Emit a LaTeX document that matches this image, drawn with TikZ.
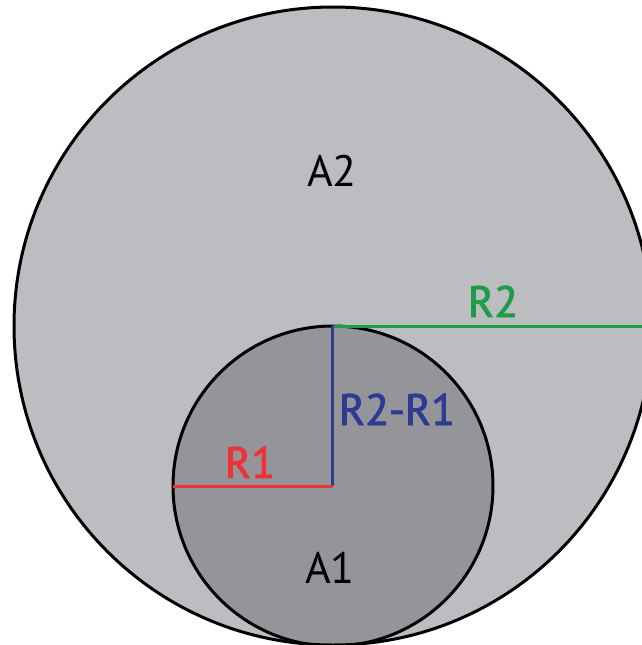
\documentclass[tikz,border=0pt]{standalone}
\usepackage{fontspec}
\setmainfont{PT Sans}
\newfontfamily\radfont[FakeBold=2]{PT Sans}
\usepackage{tikz}
\definecolor{outergray}{HTML}{BCBDC0}
\definecolor{innergray}{HTML}{939598}
\definecolor{radred}{HTML}{EE3237}
\definecolor{radblue}{HTML}{2E3A94}
\definecolor{radgreen}{HTML}{1E9C4A}

\begin{document}
\begin{tikzpicture}[x=0.5pt, y=-0.5pt,
      disc/.style={draw=black, line width=1.5pt},
      radius line/.style={line width=1.5pt},
      area/.style={font=\fontsize{22}{26}\selectfont, anchor=base, inner sep=0pt},
      rlabel/.style={font=\radfont\fontsize{22}{26}\selectfont, anchor=base, inner sep=0pt}]
    \useasboundingbox (0,0) rectangle (642,645);
    \clip (0,0) rectangle (642,645);
    \coordinate (o) at (333,326);
    \coordinate (c) at (333,486);
    \coordinate (r2end) at (660,326);
    \coordinate (r1end) at (173,486);
    \fill[outergray] (o) circle[radius=319];
    \fill[innergray] (c) circle[radius=160];
    \draw[disc] (o) circle[radius=319];
    \draw[disc] (c) circle[radius=160];
    \draw[radius line, radgreen] (o) -- (r2end);
    \draw[radius line, radblue] (o) -- (c);
    \draw[radius line, radred] (c) -- (r1end);
    \node[area] (a2) at (332,186) {A2};
    \node[area] (a1) at (330,583) {A1};
    \node[rlabel, text=radgreen] (r2) at (493,317) {R2};
    \node[rlabel, text=radblue] (r21) at (397,425) {R2-R1};
    \node[rlabel, text=radred] (r1) at (250,478) {R1};
  \end{tikzpicture}
\end{document}
